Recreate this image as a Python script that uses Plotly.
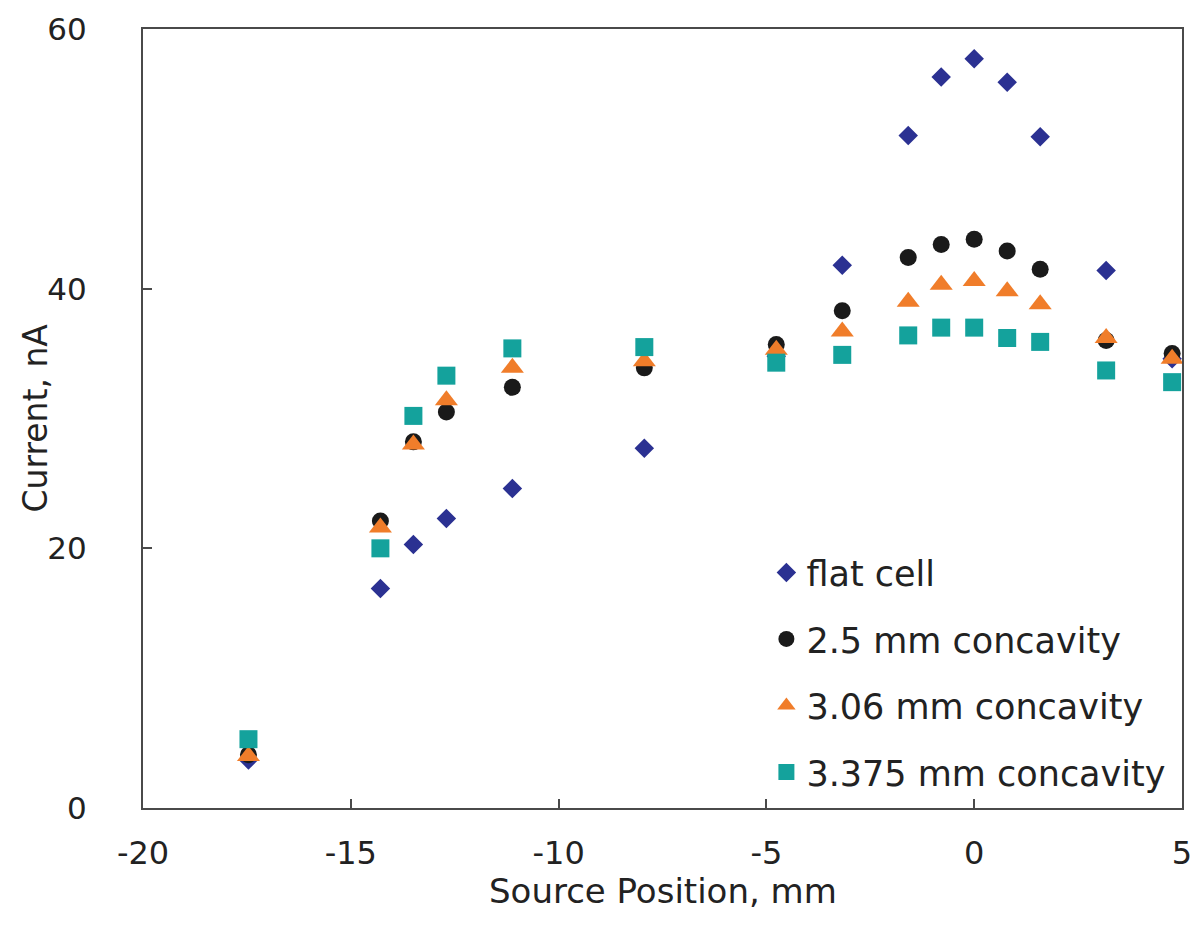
import plotly.graph_objects as go

# Source positions (mm)
x_pos = [-17.4625, -14.2875, -13.49375, -12.7, -11.1125, -7.9375, -4.7625, -3.175,
         -1.5875, -0.79375, 0.0, 0.79375, 1.5875, 3.175, 4.7625]

flat_cell = [3.7, 16.9, 20.3, 22.3, 24.6, 27.7, 34.8, 41.8,
             51.8, 56.3, 57.7, 55.9, 51.7, 41.4, 34.6]
conc_2_5 = [4.1, 22.1, 28.2, 30.5, 32.4, 33.9, 35.7, 38.3,
            42.4, 43.4, 43.8, 42.9, 41.5, 36.0, 35.0]
conc_3_06 = [4.0, 21.6, 28.0, 31.4, 33.9, 34.4, 35.3, 36.7,
             39.0, 40.3, 40.6, 39.8, 38.8, 36.2, 34.6]
conc_3_375 = [5.3, 20.0, 30.2, 33.3, 35.4, 35.5, 34.3, 34.9,
              36.4, 37.0, 37.0, 36.2, 35.9, 33.7, 32.8]

series_names = ["flat cell", "2.5 mm concavity", "3.06 mm concavity", "3.375 mm concavity"]

x_ticks = [-20, -15, -10, -5, 0, 5]
x_tick_labels = ["-20", "-15", "-10", "-5", "0", "5"]
y_ticks = [0, 20, 40, 60]
y_tick_labels = ["0", "20", "40", "60"]

x_title = "Source Position, mm"
y_title = "Current, nA"

FONT = "DejaVu Sans, Liberation Sans, sans-serif"
TXT = "#222222"

styles = [
    dict(symbol="diamond", size=15, color="#2B3192"),
    dict(symbol="circle", size=17, color="#1A1A1A"),
    dict(symbol="triangle-up", size=20, color="#F07D2A"),
    dict(symbol="square", size=18, color="#14A29C"),
]

fig = go.Figure()
for i, (name, ys) in enumerate(zip(series_names, [flat_cell, conc_2_5, conc_3_06, conc_3_375])):
    st = styles[i]
    fig.add_trace(go.Scatter(
        x=x_pos, y=ys, mode="markers", name=name, legendgroup=f"g{i}",
        marker=dict(symbol=st["symbol"], size=st["size"], color=st["color"],
                    line=dict(width=0)),
        cliponaxis=True,
    ))

axis_common = dict(
    showline=True, linecolor="#4a4a4a", linewidth=2, mirror=True,
    ticks="inside", ticklen=9, tickwidth=1.5, tickcolor="#4a4a4a",
    showgrid=False, zeroline=False, automargin=False,
)

fig.update_xaxes(
    range=[-20, 5], tickvals=x_ticks, ticktext=x_tick_labels,
    ticklabelstandoff=16,
    tickfont=dict(family=FONT, size=32, color=TXT),
    **axis_common,
)
fig.update_yaxes(
    range=[0, 60], tickvals=y_ticks, ticktext=y_tick_labels,
    ticklabelstandoff=48,
    tickfont=dict(family=FONT, size=31, color=TXT),
    **axis_common,
)

# axis titles as text placed next to the axes
fig.add_annotation(
    text=x_title, xref="paper", yref="paper", x=0.5, y=0,
    xanchor="center", yanchor="middle", yshift=-83, showarrow=False,
    font=dict(family=FONT, size=34, color=TXT),
)
fig.add_annotation(
    text=y_title, xref="paper", yref="paper", x=0, y=0.5,
    xanchor="center", yanchor="middle", xshift=-108, textangle=-90,
    showarrow=False, font=dict(family=FONT, size=33, color=TXT),
)

fig.update_layout(
    width=1192, height=916,
    margin=dict(l=135, r=18, t=21, b=116),
    paper_bgcolor="white", plot_bgcolor="white",
    font=dict(family=FONT, color=TXT),
    showlegend=True,
    legend=dict(
        x=0.6, y=0.34, xanchor="left", yanchor="top",
        font=dict(family=FONT, size=35, color=TXT),
        tracegroupgap=18, bgcolor="rgba(255,255,255,0)",
        itemsizing="trace",
    ),
)

fig.write_html("out.html")
